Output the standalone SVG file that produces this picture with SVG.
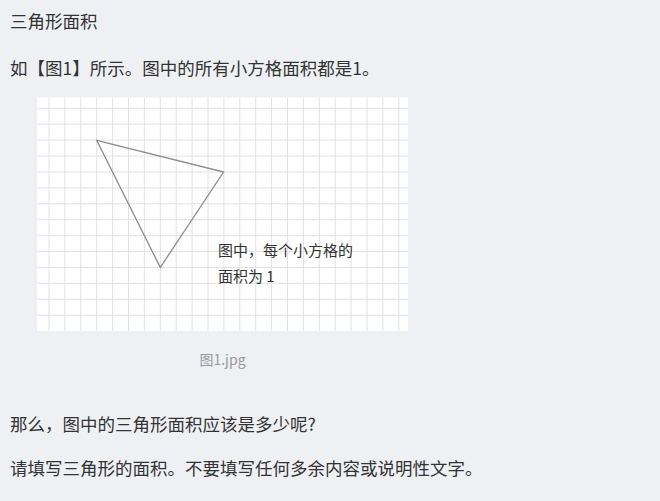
<svg xmlns="http://www.w3.org/2000/svg" width="660" height="501" viewBox="0 0 660 501">
  <style>
    .txt { font-family: "Noto Sans CJK SC", "Liberation Sans", sans-serif; fill: #333333; }
    .body { font-size: 17.5px; }
    .inner { font-size: 15px; fill: #333333; }
    .cap { font-size: 14px; fill: #999999; }
    .grid { stroke: #e2e2e2; stroke-width: 1; fill: none; }
    .tri { stroke: #8c8c8c; stroke-width: 1.3; fill: none; stroke-linejoin: miter; }
  </style>
  <rect x="0" y="0" width="660" height="501" fill="#eef0f4"/>
  <g id="title">
    <text class="txt body" x="10" y="28">三角形面积</text>
  </g>
  <g id="intro">
    <text class="txt body" x="10" y="75">如【图1】所示。图中的所有小方格面积都是1。</text>
  </g>
  <g id="figure">
    <rect x="37" y="97.5" width="371" height="233.5" fill="#ffffff"/>
    <path class="grid" d="M49,97.5V331 M64.9,97.5V331 M80.8,97.5V331 M96.7,97.5V331 M112.6,97.5V331 M128.5,97.5V331 M144.4,97.5V331 M160.3,97.5V331 M176.2,97.5V331 M192.1,97.5V331 M208,97.5V331 M223.9,97.5V331 M239.8,97.5V331 M255.7,97.5V331 M271.6,97.5V331 M287.5,97.5V331 M303.4,97.5V331 M319.3,97.5V331 M335.2,97.5V331 M351.1,97.5V331 M367,97.5V331 M382.9,97.5V331 M398.8,97.5V331"/>
    <path class="grid" d="M37,108.3H408 M37,124.2H408 M37,140.1H408 M37,156.1H408 M37,172H408 M37,187.9H408 M37,203.8H408 M37,219.7H408 M37,235.7H408 M37,251.6H408 M37,267.5H408 M37,283.4H408 M37,299.3H408 M37,315.3H408"/>
    <g id="triangle">
      <polygon class="tri" points="96.7,140.3 223.6,172 160.3,267.4"/>
    </g>
    <g id="note">
      <text class="txt inner" x="218" y="255.5">图中，每个小方格的</text>
      <text class="txt inner" x="218" y="281.5">面积为 1</text>
    </g>
  </g>
  <g id="caption">
    <text class="txt cap" x="222.5" y="365" text-anchor="middle">图1.jpg</text>
  </g>
  <g id="question">
    <text class="txt body" x="10" y="430.5">那么，图中的三角形面积应该是多少呢?</text>
  </g>
  <g id="instruction">
    <text class="txt body" x="10" y="475">请填写三角形的面积。不要填写任何多余内容或说明性文字。</text>
  </g>
</svg>
